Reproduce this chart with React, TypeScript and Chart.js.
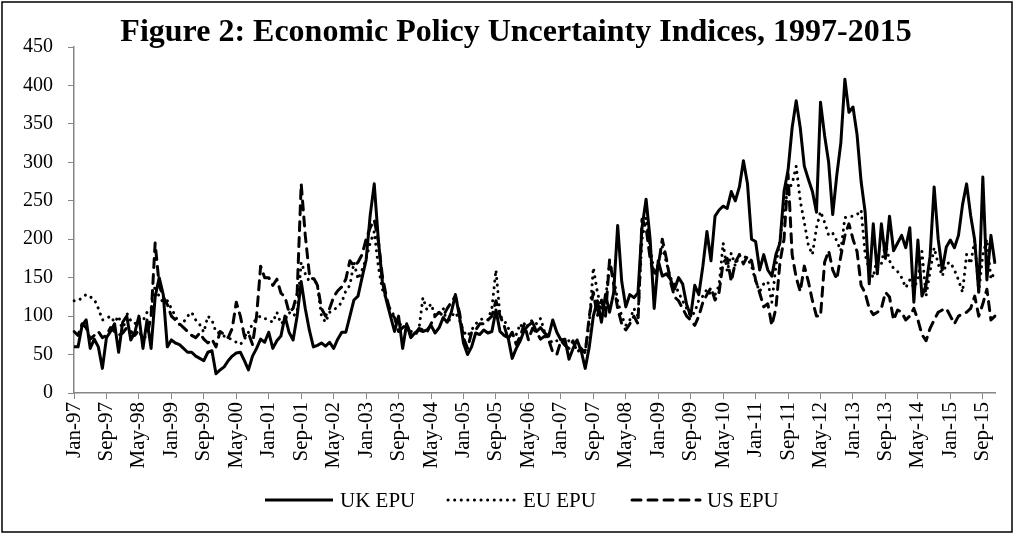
import React, { useEffect, useRef } from 'react';
import { Chart, registerables } from 'chart.js';

Chart.register(...registerables);

const TITLE = 'Figure 2: Economic Policy Uncertainty Indices, 1997-2015';
const MONTHS = ['Jan', 'Feb', 'Mar', 'Apr', 'May', 'Jun', 'Jul', 'Aug', 'Sep', 'Oct', 'Nov', 'Dec'];
const YEARS = ['97', '98', '99', '00', '01', '02', '03', '04', '05', '06', '07', '08', '09', '10', '11', '12', '13', '14', '15'];
const categories = YEARS.flatMap((y) => MONTHS.map((m) => `${m}-${y}`));
const SERIES_NAMES = ['UK EPU', 'EU EPU', 'US EPU'];
const Y_TICKS = [0, 50, 100, 150, 200, 250, 300, 350, 400, 450];

// UK EPU (solid), Jan-97 .. Dec-15, one row per year
const ukEpu = [
  60, 60, 88, 95, 58, 70, 60, 32, 72, 80, 90, 53,
  92, 100, 69, 79, 100, 58, 95, 58, 125, 150, 128, 60,
  69, 65, 63, 58, 53, 53, 48, 45, 42, 53, 55, 25,
  30, 34, 42, 48, 52, 53, 42, 30, 48, 58, 70, 66,
  79, 58, 68, 74, 100, 79, 69, 100, 145, 110, 82, 60,
  62, 65, 61, 66, 58, 70, 79, 79, 100, 121, 126, 150,
  173, 231, 272, 200, 145, 120, 100, 80, 100, 58, 90, 72,
  78, 82, 80, 82, 88, 78, 85, 98, 92, 105, 128, 100,
  65, 50, 60, 78, 76, 82, 78, 80, 108, 80, 75, 72,
  45, 58, 68, 82, 88, 92, 80, 85, 78, 74, 95, 79,
  69, 70, 44, 58, 69, 55, 32, 60, 100, 120, 92, 128,
  105, 130, 218, 145, 112, 128, 124, 130, 215, 252, 200, 110,
  172, 152, 155, 148, 135, 150, 142, 115, 100, 140, 128, 165,
  210, 172, 230, 238, 243, 240, 262, 250, 268, 302, 272, 200,
  197, 160, 180, 160, 152, 180, 195, 262, 290, 345, 380, 345,
  295, 278, 262, 235, 378, 335, 300, 232, 283, 325, 408, 365,
  372, 336, 275, 235, 142, 220, 155, 220, 175, 230, 185, 195,
  205, 189, 215, 118, 199, 126, 140, 178, 268, 200, 160, 190,
  199, 189, 205, 245, 272, 231, 199, 131, 281, 147, 205, 168,
];

// EU EPU (dotted)
const euEpu = [
  120, 120, 124, 128, 125, 122, 110, 95, 97, 100, 92, 100,
  80, 104, 94, 90, 97, 94, 105, 110, 140, 125, 118, 120,
  110, 100, 89, 92, 100, 105, 95, 89, 79, 100, 95, 79,
  78, 74, 72, 69, 66, 63, 70, 79, 90, 97, 100, 97,
  95, 92, 105, 90, 95, 105, 100, 105, 170, 155, 145, 150,
  140, 100, 92, 105, 108, 112, 118, 133, 140, 170, 148, 160,
  175, 195, 210, 165, 135, 122, 108, 100, 90, 88, 85, 80,
  79, 82, 124, 108, 116, 100, 105, 110, 90, 100, 105, 95,
  80, 74, 82, 90, 95, 97, 95, 110, 160, 100, 95, 85,
  74, 76, 90, 80, 90, 95, 90, 97, 79, 70, 65, 68,
  68, 65, 68, 64, 62, 58, 55, 90, 163, 131, 110, 121,
  170, 150, 120, 100, 88, 95, 110, 100, 200, 228, 190, 155,
  168, 190, 170, 150, 142, 131, 120, 110, 100, 105, 121, 126,
  135, 128, 128, 140, 195, 158, 182, 165, 180, 178, 175, 165,
  145, 132, 142, 145, 118, 165, 200, 240, 265, 272, 295, 250,
  222, 192, 180, 215, 236, 222, 205, 208, 198, 185, 228, 230,
  230, 232, 238, 180, 160, 150, 178, 168, 195, 172, 162, 158,
  150, 137, 147, 137, 147, 184, 126, 158, 189, 168, 152, 168,
  170, 160, 147, 131, 180, 168, 199, 131, 180, 200, 148, 158,
];

// US EPU (dashed)
const usEpu = [
  80, 75, 90, 85, 70, 75, 80, 72, 75, 85, 80, 75,
  78, 85, 80, 75, 82, 70, 75, 100, 195, 140, 125, 115,
  100, 95, 90, 85, 80, 75, 72, 78, 70, 65, 70, 60,
  80, 76, 72, 84, 118, 100, 74, 78, 63, 100, 165, 150,
  150, 140, 148, 130, 125, 105, 110, 130, 272, 205, 155, 150,
  140, 110, 100, 110, 125, 133, 138, 148, 172, 165, 170, 180,
  200, 215, 225, 198, 152, 125, 105, 98, 80, 85, 90, 76,
  74, 84, 82, 79, 90, 100, 105, 100, 110, 118, 126, 105,
  72, 58, 79, 82, 90, 90, 95, 100, 120, 100, 88, 70,
  79, 63, 74, 90, 69, 84, 79, 70, 74, 69, 53, 50,
  68, 62, 58, 68, 53, 58, 52, 100, 131, 100, 121, 100,
  173, 142, 110, 90, 82, 90, 100, 90, 226, 215, 175, 152,
  165, 200, 175, 145, 125, 120, 110, 100, 95, 88, 100, 118,
  128, 137, 121, 131, 170, 175, 145, 170, 180, 168, 178, 172,
  147, 130, 112, 116, 88, 110, 170, 200, 285, 180, 150, 132,
  165, 145, 120, 100, 100, 170, 185, 160, 148, 178, 205, 220,
  200, 184, 140, 130, 110, 102, 105, 110, 131, 125, 95, 108,
  105, 95, 100, 110, 95, 76, 68, 84, 95, 105, 108, 110,
  100, 90, 100, 103, 105, 110, 126, 100, 116, 135, 95, 100,
];

const W = 1016;
const H = 536;
const AXIS_GRAY = '#868686';
const FONT = '"Liberation Serif", "Times New Roman", serif';

const STYLES = [
  { dash: [] as number[], cap: 'butt' as CanvasLineCap },
  { dash: [0.1, 6.5], cap: 'round' as CanvasLineCap },
  { dash: [9, 7], cap: 'round' as CanvasLineCap },
];

const decorPlugin = {
  id: 'decor',
  afterDraw(chart: any) {
    const ctx: CanvasRenderingContext2D = chart.ctx;
    ctx.save();
    // chart border
    ctx.strokeStyle = '#000';
    ctx.lineWidth = 1.5;
    ctx.strokeRect(2, 2, 1010, 530);
    // title
    ctx.fillStyle = '#000';
    ctx.font = `bold 32px ${FONT}`;
    ctx.textAlign = 'center';
    ctx.textBaseline = 'alphabetic';
    ctx.fillText(TITLE, 516, 41);
    // legend
    const starts = [265, 448, 632];
    const ly = 500;
    ctx.font = `21px ${FONT}`;
    ctx.textAlign = 'left';
    SERIES_NAMES.forEach((name, i) => {
      const x0 = starts[i];
      ctx.beginPath();
      ctx.setLineDash(STYLES[i].dash);
      ctx.lineCap = STYLES[i].cap;
      ctx.lineWidth = 3;
      ctx.strokeStyle = '#000';
      ctx.moveTo(x0, ly);
      ctx.lineTo(x0 + 68, ly);
      ctx.stroke();
      ctx.setLineDash([]);
      ctx.fillText(name, x0 + 75, ly + 7);
    });
    ctx.restore();
  },
};

export default function App() {
  const ref = useRef<HTMLCanvasElement | null>(null);

  useEffect(() => {
    if (!ref.current) return;
    const seriesData = [ukEpu, euEpu, usEpu];
    const chart = new Chart(ref.current, {
      type: 'line',
      data: {
        labels: categories,
        datasets: seriesData.map((d, i) => ({
          label: SERIES_NAMES[i],
          data: d,
          borderColor: '#000',
          backgroundColor: '#000',
          borderWidth: 3,
          borderDash: STYLES[i].dash,
          borderCapStyle: STYLES[i].cap,
          borderJoinStyle: 'round' as CanvasLineJoin,
          pointRadius: 0,
          pointHoverRadius: 0,
          tension: 0,
          fill: false,
          order: 3 - i,
        })),
      },
      options: {
        responsive: false,
        animation: false,
        devicePixelRatio: 1,
        layout: { padding: { top: 47, left: 0, right: 21, bottom: 0 } },
        plugins: {
          legend: { display: false },
          title: { display: false },
          tooltip: { enabled: false },
        },
        scales: {
          x: {
            type: 'category',
            offset: false,
            grid: {
              display: true,
              drawOnChartArea: false,
              drawTicks: true,
              tickLength: 6,
              tickColor: AXIS_GRAY,
              color: AXIS_GRAY,
              offset: false,
            },
            border: { display: true, color: AXIS_GRAY, width: 1.5 },
            ticks: {
              autoSkip: false,
              maxRotation: 90,
              minRotation: 90,
              padding: 3,
              color: '#000',
              font: { family: FONT, size: 21 },
            },
            afterBuildTicks: (scale: any) => {
              scale.ticks = scale.ticks.filter((t: any) => t.value % 8 === 0);
            },
            afterFit: (scale: any) => {
              scale.height = H - 393;
            },
          },
          y: {
            min: Y_TICKS[0],
            max: Y_TICKS[Y_TICKS.length - 1],
            grid: {
              display: true,
              drawOnChartArea: false,
              drawTicks: true,
              tickLength: 6,
              tickColor: AXIS_GRAY,
              color: AXIS_GRAY,
            },
            border: { display: true, color: AXIS_GRAY, width: 1.5 },
            ticks: {
              stepSize: 50,
              padding: 15,
              color: '#000',
              font: { family: FONT, size: 20 },
            },
            afterBuildTicks: (scale: any) => {
              scale.ticks = Y_TICKS.map((v) => ({ value: v }));
            },
            afterFit: (scale: any) => {
              scale.width = 74;
            },
          },
        },
      },
      plugins: [decorPlugin],
    });
    return () => chart.destroy();
  }, []);

  return (
    <div style={{ position: 'absolute', left: 0, top: 0, width: W, height: H, background: '#fff' }}>
      <canvas ref={ref} width={W} height={H} style={{ width: W, height: H, display: 'block' }} />
    </div>
  );
}
